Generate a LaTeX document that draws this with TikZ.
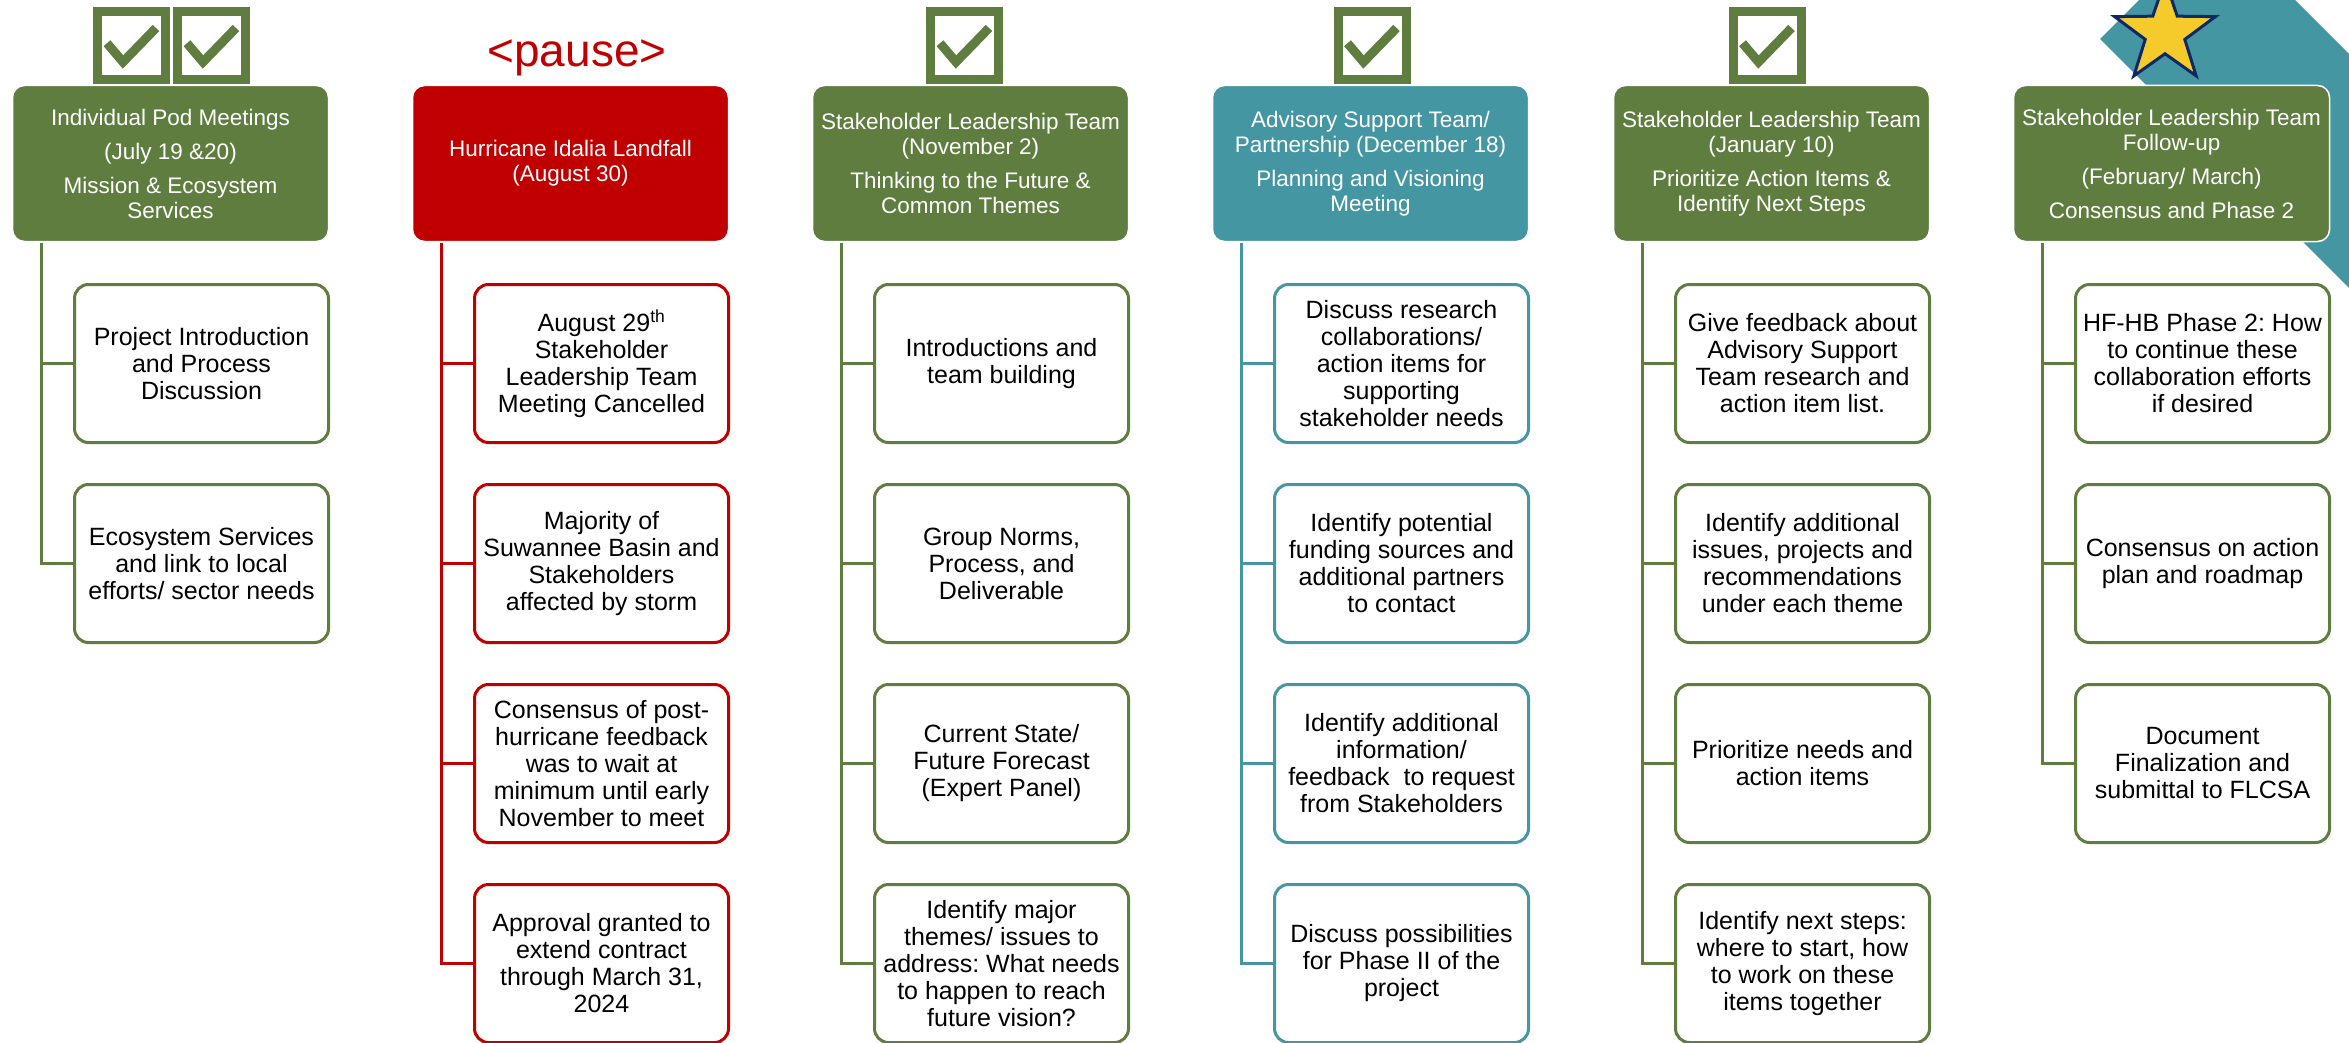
\documentclass[tikz,border=0pt]{standalone}
\usepackage{fontspec}
\setmainfont{Liberation Sans}
\usetikzlibrary{shapes.geometric}
\definecolor{grn}{HTML}{5E7D3F}
\definecolor{rd}{HTML}{C00000}
\definecolor{tl}{HTML}{4596A3}
\definecolor{stary}{HTML}{F5CB2B}
\definecolor{starb}{HTML}{0E2A66}
\hyphenpenalty=10000
\exhyphenpenalty=10000
\frenchspacing
\begin{document}
\begin{tikzpicture}[x=1pt,y=-1pt,
 hdr/.style={rectangle, rounded corners=12pt, minimum width=316pt, minimum height=156pt, align=center, inner sep=0pt, text=white, font=\fontsize{22.5}{25}\selectfont, draw=white, line width=1.5pt},
 kid/.style={rectangle, rounded corners=14pt, minimum width=254pt, minimum height=158pt, align=center, inner sep=0pt, fill=white, line width=3pt, font=\fontsize{25}{27}\selectfont},
 link/.style={line width=3pt},
 chk/.style={rectangle, draw=grn, line width=9pt, minimum size=68pt, inner sep=0pt, fill=white},
 tick/.style={draw=grn, line width=9pt, line cap=butt, line join=miter},
]
\useasboundingbox (0,0) rectangle (2349,1043);
\clip (0,0) rectangle (2349,1043);

% ribbon and star
\fill[tl] (2100,39) -- (2217,-78) -- (2517,222) -- (2400,339) -- cycle;
\node[star, star points=5, star point ratio=2.55, minimum size=106pt, inner sep=0pt, fill=stary, draw=starb, line width=3pt] (star) at (2165,33) {};

% check boxes
\foreach \n/\cx in {k1a/131.5, k1b/211.5, k3/964.5, k4/1372, k5/1767} {
  \node[chk] (\n) at (\cx,45.5) {};
  \draw[tick] ([shift={(-24.5,-2.3)}]\n.center) -- ([shift={(-8.5,16.5)}]\n.center) -- ([shift={(24.5,-17.5)}]\n.center);
}

% pause
\node[text=rd, font=\fontsize{46}{46}\selectfont, anchor=base, inner sep=0pt] (pause) at (577,67) {<pause>};

% headers
\node[hdr, fill=grn] (h1) at (170.5,163.5) {Individual Pod Meetings\\[9pt](July 19 \&20)\\[9pt]Mission \& Ecosystem\\Services};
\node[hdr, fill=rd] (h2) at (570.5,163.5) {Hurricane Idalia Landfall\\(August 30)};
\node[hdr, fill=grn] (h3) at (970.5,163.5) {Stakeholder Leadership Team\\(November 2)\\[9pt]Thinking to the Future \&\\Common Themes};
\node[hdr, fill=tl] (h4) at (1370.5,163.5) {Advisory Support Team/\\Partnership (December 18)\\[9pt]Planning and Visioning\\Meeting};
\node[hdr, fill=grn] (h5) at (1771.5,163.5) {Stakeholder Leadership Team\\(January 10)\\[9pt]Prioritize Action Items \&\\Identify Next Steps};
\node[hdr, fill=grn] (h6) at (2171.5,163.5) {Stakeholder Leadership Team\\Follow-up\\[9pt](February/ March)\\[9pt]Consensus and Phase 2};

% column 1
\node[kid, draw=grn] (c1a) at (201.5,363.5) {Project Introduction\\and Process\\Discussion};
\node[kid, draw=grn] (c1b) at (201.5,563.5) {Ecosystem Services\\and link to local\\efforts/ sector needs};
% column 2
\node[kid, draw=rd] (c2a) at (601.5,363.5) {August 29\textsuperscript{th}\\Stakeholder\\Leadership Team\\Meeting Cancelled};
\node[kid, draw=rd] (c2b) at (601.5,563.5) {Majority of\\Suwannee Basin and\\Stakeholders\\affected by storm};
\node[kid, draw=rd] (c2c) at (601.5,763.5) {Consensus of post-\\hurricane feedback\\was to wait at\\minimum until early\\November to meet};
\node[kid, draw=rd] (c2d) at (601.5,963.5) {Approval granted to\\extend contract\\through March 31,\\2024};
% column 3
\node[kid, draw=grn] (c3a) at (1001.5,363.5) {Introductions and\\team building};
\node[kid, draw=grn] (c3b) at (1001.5,563.5) {Group Norms,\\Process, and\\Deliverable};
\node[kid, draw=grn] (c3c) at (1001.5,763.5) {Current State/\\Future Forecast\\(Expert Panel)};
\node[kid, draw=grn] (c3d) at (1001.5,963.5) {Identify major\\themes/ issues to\\address: What needs\\to happen to reach\\future vision?};
% column 4
\node[kid, draw=tl] (c4a) at (1401.5,363.5) {Discuss research\\collaborations/\\action items for\\supporting\\stakeholder needs};
\node[kid, draw=tl] (c4b) at (1401.5,563.5) {Identify potential\\funding sources and\\additional partners\\to contact};
\node[kid, draw=tl] (c4c) at (1401.5,763.5) {Identify additional\\information/\\feedback~ to request\\from Stakeholders};
\node[kid, draw=tl] (c4d) at (1401.5,963.5) {Discuss possibilities\\for Phase II of the\\project};
% column 5
\node[kid, draw=grn] (c5a) at (1802.5,363.5) {Give feedback about\\Advisory Support\\Team research and\\action item list.};
\node[kid, draw=grn] (c5b) at (1802.5,563.5) {Identify additional\\issues, projects and\\recommendations\\under each theme};
\node[kid, draw=grn] (c5c) at (1802.5,763.5) {Prioritize needs and\\action items};
\node[kid, draw=grn] (c5d) at (1802.5,963.5) {Identify next steps:\\where to start, how\\to work on these\\items together};
% column 6
\node[kid, draw=grn] (c6a) at (2202.5,363.5) {HF-HB Phase 2: How\\to continue these\\collaboration efforts\\if desired};
\node[kid, draw=grn] (c6b) at (2202.5,563.5) {Consensus on action\\plan and roadmap};
\node[kid, draw=grn] (c6c) at (2202.5,763.5) {Document\\Finalization and\\submittal to FLCSA};

% connectors
\foreach \h/\c/\col in {h1/c1a/grn, h1/c1b/grn,
  h2/c2a/rd, h2/c2b/rd, h2/c2c/rd, h2/c2d/rd,
  h3/c3a/grn, h3/c3b/grn, h3/c3c/grn, h3/c3d/grn,
  h4/c4a/tl, h4/c4b/tl, h4/c4c/tl, h4/c4d/tl,
  h5/c5a/grn, h5/c5b/grn, h5/c5c/grn, h5/c5d/grn,
  h6/c6a/grn, h6/c6b/grn, h6/c6c/grn} {
  \draw[link, draw=\col] ([xshift=30pt,yshift=-1pt]\h.south west) |- (\c.west);
}
\end{tikzpicture}
\end{document}
